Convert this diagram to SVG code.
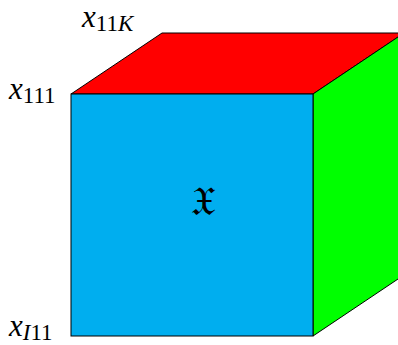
<svg xmlns="http://www.w3.org/2000/svg" width="398" height="345" viewBox="0 0 398 345">
<rect width="398" height="345" fill="#fff"/>
<g id="cube">
<polygon id="top" stroke="#000" fill="#ff0000" points="71,94 162,33 404,33 313,94"/>
<polygon id="right" stroke="#000" fill="#00ff00" points="313,94 404,33 404,275 313,336"/>
<rect id="front" stroke="#000" fill="#00aeef" x="71" y="94" width="242" height="242"/>
</g>
<g id="labels" font-family="'Liberation Serif', 'Times New Roman', serif" fill="#000">
<text x="82" y="27" font-size="31"><tspan font-style="italic">x</tspan><tspan font-size="23" dy="4">11<tspan font-style="italic">K</tspan></tspan></text>
<text x="9" y="99" font-size="31"><tspan font-style="italic">x</tspan><tspan font-size="23" dy="4">111</tspan></text>
<text x="9" y="336" font-size="31"><tspan font-style="italic">x</tspan><tspan font-size="23" dy="3.5"><tspan font-style="italic">I</tspan>11</tspan></text>
<text x="203" y="215" font-size="40" text-anchor="middle">𝔛</text>
</g>
</svg>
